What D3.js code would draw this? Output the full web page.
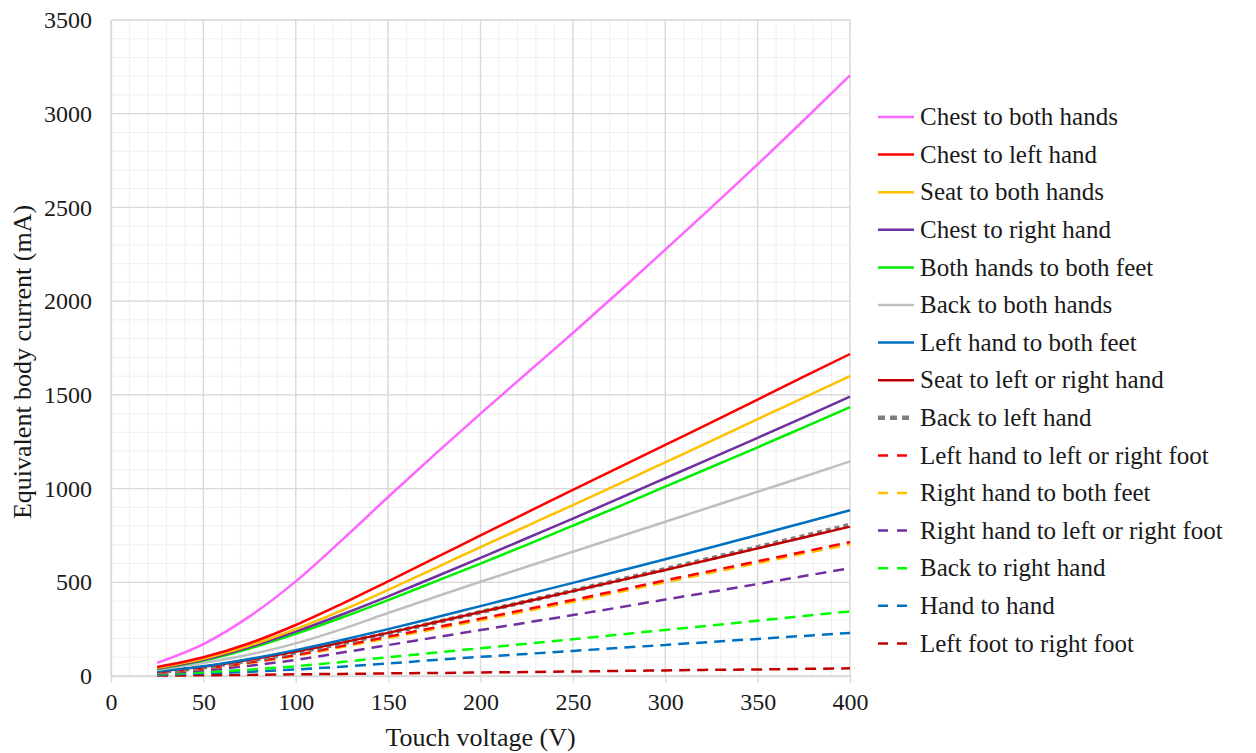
<!DOCTYPE html>
<html>
<head>
<meta charset="utf-8">
<script src="https://cdn.jsdelivr.net/npm/d3@7"></script>
<style>
  body { margin: 0; background: #fff; }
  svg text { font-family: "Liberation Serif", "Times New Roman", Tinos, "DejaVu Serif", serif !important; fill: #1a1a1a; }
</style>
</head>
<body>
<script>

var voltage = [25, 50, 75, 100, 125, 150, 175, 200, 225, 250, 275, 300, 325, 350, 375, 400];

var seriesNames = [
  "Chest to both hands", "Chest to left hand", "Seat to both hands", "Chest to right hand",
  "Both hands to both feet", "Back to both hands", "Left hand to both feet", "Seat to left or right hand",
  "Back to left hand", "Left hand to left or right foot", "Right hand to both feet",
  "Right hand to left or right foot", "Back to right hand", "Hand to hand", "Left foot to right foot"
];

var chestBothHands   = [70, 170, 318, 505, 725, 955, 1180, 1400, 1615, 1830, 2050, 2275, 2500, 2730, 2965, 3205];
var chestLeftHand    = [48, 100, 175, 272, 385, 505, 627, 750, 872, 993, 1113, 1233, 1353, 1475, 1597, 1718];
var seatBothHands    = [44, 92, 162, 250, 350, 460, 573, 688, 800, 912, 1025, 1140, 1255, 1370, 1485, 1600];
var chestRightHand   = [40, 87, 155, 237, 328, 425, 527, 630, 735, 840, 947, 1055, 1163, 1271, 1380, 1490];
var handsToFeet      = [37, 82, 147, 225, 312, 405, 502, 600, 700, 802, 905, 1010, 1115, 1220, 1327, 1434];
var backBothHands    = [32, 70, 115, 174, 250, 336, 420, 503, 583, 663, 743, 823, 903, 983, 1063, 1145];
var leftHandFeet     = [25, 52, 91, 138, 192, 250, 311, 373, 435, 497, 560, 623, 687, 752, 818, 884];
var seatOneHand      = [24, 50, 87, 130, 178, 230, 285, 341, 397, 453, 509, 566, 623, 681, 739, 797];
var backLeftHand     = [22, 46, 83, 126, 175, 228, 284, 341, 398, 455, 512, 570, 628, 687, 746, 806];
var leftHandFoot     = [18, 40, 72, 112, 160, 210, 258, 306, 356, 406, 458, 510, 561, 612, 663, 715];
var rightHandFeet    = [17, 38, 69, 108, 154, 202, 250, 297, 346, 396, 448, 500, 551, 602, 653, 703];
var rightHandFoot    = [13, 30, 55, 86, 125, 165, 205, 245, 285, 325, 366, 408, 449, 491, 533, 575];
var backRightHand    = [9, 20, 34, 52, 75, 100, 124, 148, 172, 196, 221, 246, 270, 295, 320, 345];
var handToHand       = [6, 14, 23, 35, 50, 67, 85, 102, 118, 134, 150, 166, 182, 198, 214, 230];
var footToFoot       = [2, 4, 6, 9, 11, 14, 16, 19, 21, 24, 27, 30, 33, 35, 38, 41];

var seriesValues = [chestBothHands, chestLeftHand, seatBothHands, chestRightHand, handsToFeet,
  backBothHands, leftHandFeet, seatOneHand, backLeftHand, leftHandFoot, rightHandFeet,
  rightHandFoot, backRightHand, handToHand, footToFoot];

var colors = ["#ff66ff", "#ff0000", "#ffc000", "#7030a0", "#00ee00", "#bfbfbf", "#0070c0", "#c00000",
  "#7f7f7f", "#ff0000", "#ffc000", "#7030a0", "#00ff00", "#0070c0", "#c00000"];
var dashed = [false, false, false, false, false, false, false, false, true, true, true, true, true, true, true];

var xTicks = [0, 50, 100, 150, 200, 250, 300, 350, 400];
var yTicks = [0, 500, 1000, 1500, 2000, 2500, 3000, 3500];

var margin = {top: 20, left: 111};
var width = 739, height = 656;

var svg = d3.select("body").append("svg")
    .attr("width", 1256)
    .attr("height", 753);

var g = svg.append("g")
    .attr("transform", "translate(" + margin.left + "," + margin.top + ")");

var x = d3.scaleLinear().domain([0, 400]).range([0, width]);
var y = d3.scaleLinear().domain([0, 3500]).range([height, 0]);

// minor grid
g.append("g").selectAll("line")
  .data(d3.range(0, 401, 10))
  .enter().append("line")
    .attr("x1", d => x(d)).attr("x2", d => x(d))
    .attr("y1", 0).attr("y2", height)
    .attr("stroke", "#efefef").attr("stroke-width", 1);
g.append("g").selectAll("line")
  .data(d3.range(0, 3501, 100))
  .enter().append("line")
    .attr("x1", 0).attr("x2", width)
    .attr("y1", d => y(d)).attr("y2", d => y(d))
    .attr("stroke", "#efefef").attr("stroke-width", 1);

// major grid
g.append("g").selectAll("line")
  .data(xTicks)
  .enter().append("line")
    .attr("x1", d => x(d)).attr("x2", d => x(d))
    .attr("y1", 0).attr("y2", height)
    .attr("stroke", "#d9d9d9").attr("stroke-width", 1.3);
g.append("g").selectAll("line")
  .data(yTicks)
  .enter().append("line")
    .attr("x1", 0).attr("x2", width)
    .attr("y1", d => y(d)).attr("y2", d => y(d))
    .attr("stroke", "#d9d9d9").attr("stroke-width", 1.3);

// x axis
var xAxis = g.append("g")
    .attr("transform", "translate(0," + height + ")")
    .call(d3.axisBottom(x).tickValues(xTicks).tickFormat(d3.format("d")).tickSize(7).tickPadding(10));
xAxis.select(".domain").attr("stroke", "#d9d9d9").attr("stroke-width", 1.3);
xAxis.selectAll(".tick line").attr("stroke", "#d9d9d9").attr("stroke-width", 1.3);
xAxis.selectAll("text").attr("font-size", "24px");

// y axis
var yAxis = g.append("g")
    .call(d3.axisLeft(y).tickValues(yTicks).tickFormat(d3.format("d")).tickSize(0).tickPadding(19));
yAxis.select(".domain").attr("stroke", "#d9d9d9").attr("stroke-width", 1.3);
yAxis.selectAll("text").attr("font-size", "24px");

// axis titles
svg.append("text")
    .attr("x", margin.left + width / 2)
    .attr("y", 746)
    .attr("text-anchor", "middle")
    .attr("font-size", "26px")
    .text("Touch voltage (V)");

svg.append("text")
    .attr("transform", "translate(31," + 362 + ") rotate(-90)")
    .attr("text-anchor", "middle")
    .attr("font-size", "26px")
    .text("Equivalent body current (mA)");

// lines
var line = d3.line()
    .x(d => x(d[0]))
    .y(d => y(d[1]))
    .curve(d3.curveMonotoneX);

var order = d3.range(seriesValues.length).reverse();
order.forEach(function(i) {
  var pts = voltage.map((v, k) => [v, seriesValues[i][k]]);
  var path = g.append("path")
      .datum(pts)
      .attr("d", line)
      .attr("fill", "none")
      .attr("stroke", colors[i])
      .attr("stroke-width", 2.5);
  if (i === 8) {
    path.attr("stroke-width", 4.5).attr("stroke-dasharray", "5,4");
  } else if (dashed[i]) {
    path.attr("stroke-dasharray", "11,7");
  }
});

// legend
var legend = svg.append("g").attr("transform", "translate(878,117)");
seriesNames.forEach(function(name, i) {
  var row = legend.append("g").attr("transform", "translate(0," + (i * 37.6) + ")");
  var l = row.append("line")
      .attr("x1", 0).attr("x2", 36)
      .attr("y1", 0).attr("y2", 0)
      .attr("stroke", colors[i])
      .attr("stroke-width", 2.5);
  if (i === 8) {
    l.attr("stroke-width", 4.5).attr("stroke-dasharray", "7,5");
  } else if (dashed[i]) {
    l.attr("stroke-dasharray", "10,9");
  }
  row.append("text")
      .attr("x", 42)
      .attr("y", 0)
      .attr("dy", "0.33em")
      .attr("font-size", "25px")
      .text(name);
});

</script>
</body>
</html>
